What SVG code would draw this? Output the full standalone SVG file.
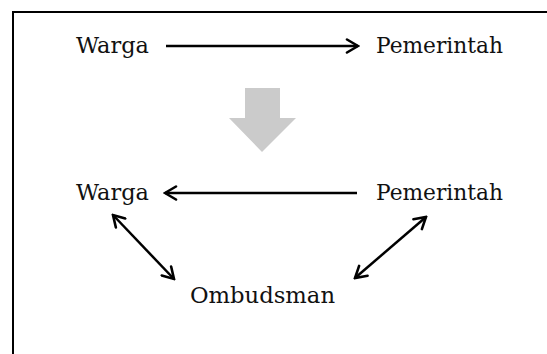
<svg xmlns="http://www.w3.org/2000/svg" width="547" height="354" viewBox="0 0 547 354">
  <style>
    .lbl { font-family: "DejaVu Serif", "Liberation Serif", serif; font-size: 22px; fill: #111; }
    .conn { stroke: #000; stroke-width: 2.5; fill: none; }
    .frame { stroke: #000; stroke-width: 2; fill: none; }
  </style>
  <defs>
    <marker id="head" viewBox="0 0 16 16" refX="14" refY="8" markerWidth="16" markerHeight="16" markerUnits="userSpaceOnUse" orient="auto-start-reverse">
      <path d="M3,1.5 L14,8 L3,14.5" fill="none" stroke="#000" stroke-width="2.6" stroke-linecap="round" stroke-linejoin="miter"/>
    </marker>
  </defs>
  <rect width="547" height="354" fill="#fff"/>
  <path class="frame" d="M13,354 V12 H547"/>

  <g id="warga-top"><text class="lbl" x="76" y="53" textLength="73" lengthAdjust="spacingAndGlyphs">Warga</text></g>
  <g id="pemerintah-top"><text class="lbl" x="376" y="53" textLength="127" lengthAdjust="spacingAndGlyphs">Pemerintah</text></g>
  <g id="transition-arrow"><polygon points="245,88 280,88 280,118 296,118 262,152 229,118 245,118" fill="#cbcbcb"/></g>
  <g id="warga-bottom"><text class="lbl" x="76" y="200" textLength="73" lengthAdjust="spacingAndGlyphs">Warga</text></g>
  <g id="pemerintah-bottom"><text class="lbl" x="376" y="200" textLength="127" lengthAdjust="spacingAndGlyphs">Pemerintah</text></g>
  <g id="ombudsman"><text class="lbl" x="190" y="303" textLength="145" lengthAdjust="spacingAndGlyphs">Ombudsman</text></g>

  <g id="connectors">
    <line class="conn" x1="166" y1="46" x2="358" y2="46" marker-end="url(#head)"/>
    <line class="conn" x1="357" y1="193" x2="165" y2="193" marker-end="url(#head)"/>
    <line class="conn" x1="113" y1="215" x2="174" y2="279" marker-start="url(#head)" marker-end="url(#head)"/>
    <line class="conn" x1="426" y1="217" x2="355" y2="278" marker-start="url(#head)" marker-end="url(#head)"/>
  </g>
</svg>
